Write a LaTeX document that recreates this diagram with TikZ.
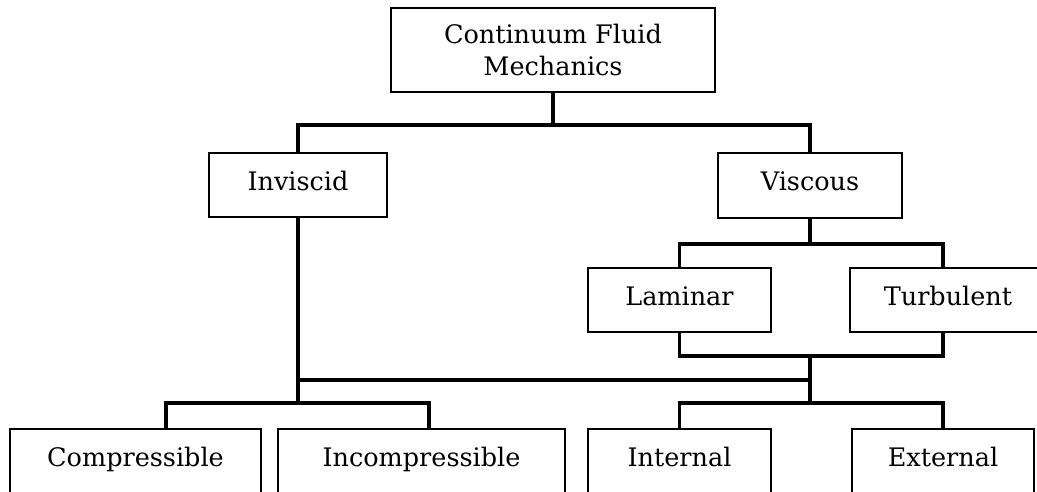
\documentclass[tikz,border=0pt]{standalone}
\usepackage{fontspec}
\setmainfont{DejaVu Serif}
\begin{document}
\begin{tikzpicture}[x=1pt,y=-1pt,
  box/.style={draw, line width=1.8pt, inner sep=0pt, align=center,
    font=\fontsize{25.5}{32}\selectfont},
  sbox/.style={box, text height=18pt, text depth=8pt},
  conn/.style={line width=3.2pt}]
\useasboundingbox (0,0) rectangle (1037,491);
\fill[white] (0,0) rectangle (1037,491);
\clip (0,0) rectangle (1037,491);
% nodes
\node[box, minimum width=324pt, minimum height=84pt] (top) at (553,50) {Continuum Fluid\\Mechanics};
\node[sbox, minimum width=178pt, minimum height=64pt] (inv) at (298,185) {Inviscid};
\node[sbox, minimum width=184pt, minimum height=65pt] (vis) at (810,185.5) {Viscous};
\node[sbox, minimum width=183pt, minimum height=64pt] (lam) at (679.5,300) {Laminar};
\node[sbox, minimum width=196pt, minimum height=64pt] (tur) at (948,300) {Turbulent};
\node[sbox, minimum width=251pt, minimum height=64pt] (comp) at (135.5,461) {Compressible};
\node[sbox, minimum width=287pt, minimum height=64pt] (incomp) at (421.5,461) {Incompressible};
\node[sbox, minimum width=183pt, minimum height=64pt] (int) at (679.5,461) {Internal};
\node[sbox, minimum width=182pt, minimum height=64pt] (ext) at (943,461) {External};
% junctions
\coordinate (j1) at (553,125);
\coordinate (j2) at (810,244);
\coordinate (j3) at (810,356);
\coordinate (j4) at (810,380);
\coordinate (j5) at (298,380);
\coordinate (j6) at (298,403);
\coordinate (j7) at (810,403);
\coordinate (a1) at (166,403);
\coordinate (a2) at (429,403);
\coordinate (tn) at ([xshift=-5pt]tur.north);
\coordinate (ts) at ([xshift=-5pt]tur.south);
% connectors
\draw[conn] (top.south) -- (j1);
\draw[conn] (inv.north) |- (j1) -| (vis.north);
\draw[conn] (vis.south) -- (j2);
\draw[conn] (lam.north) |- (j2) -| (tn);
\draw[conn] (lam.south) |- (j3) -| (ts);
\draw[conn] (j3) -- (j4);
\draw[conn] (inv.south) |- (j4);
\draw[conn] (j5) -- (j6);
\draw[conn] (a1 |- comp.north) -- (a1) -- (a2) -- (a2 |- incomp.north);
\draw[conn] (j4) -- (j7);
\draw[conn] (int.north) |- (j7) -| (ext.north);
\end{tikzpicture}
\end{document}
